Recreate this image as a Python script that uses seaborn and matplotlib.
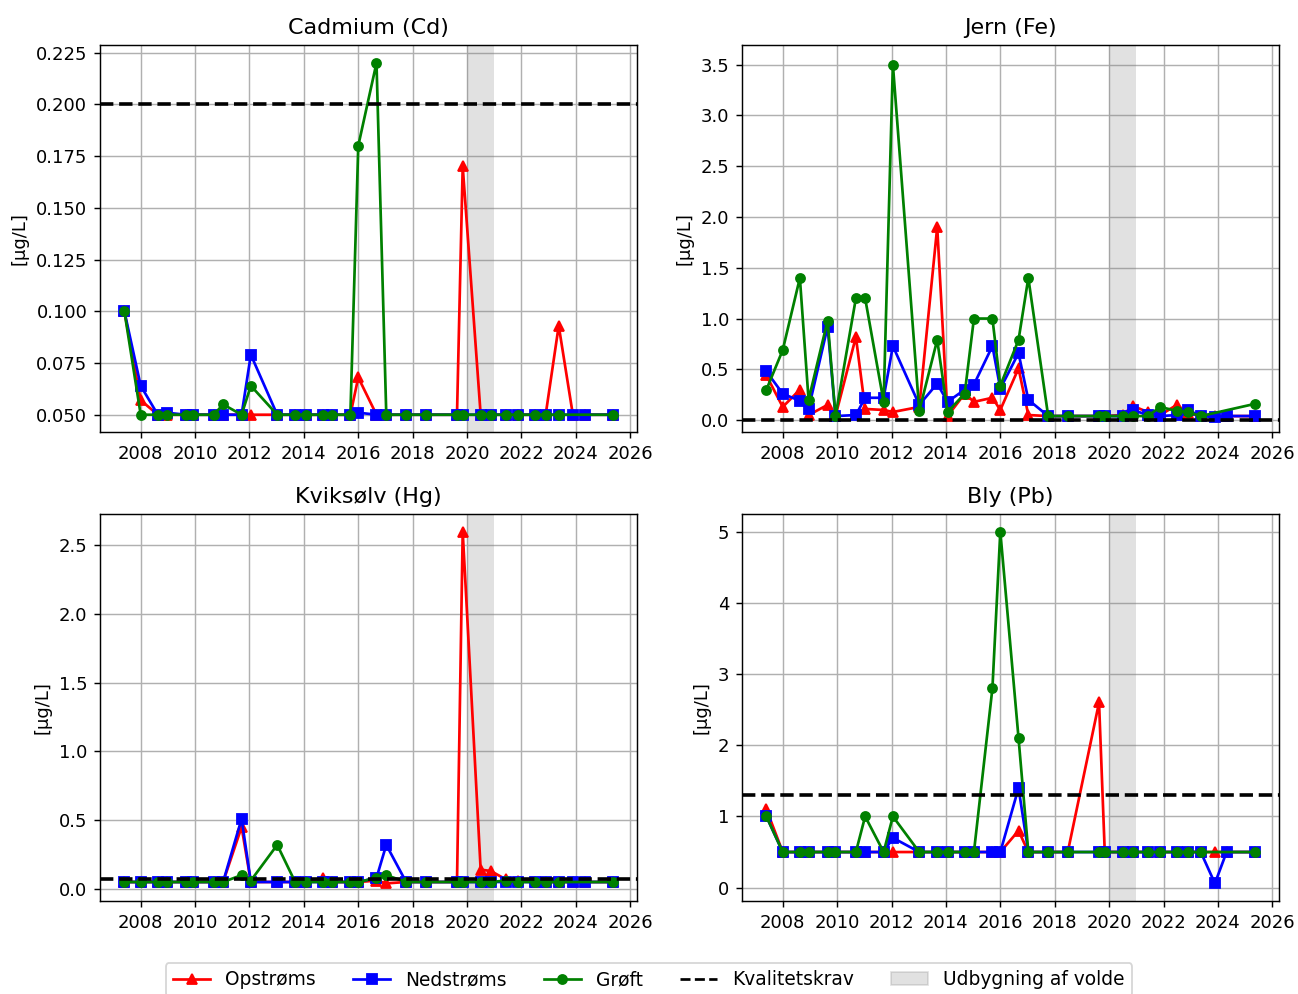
import numpy as np
import matplotlib
matplotlib.use("Agg")
import matplotlib.pyplot as plt
import seaborn as sns
from matplotlib.lines import Line2D
from matplotlib.patches import Patch
from matplotlib.ticker import MultipleLocator, FormatStrFormatter

nan = np.nan

# Sampling dates (decimal years)
dates = [2007.40, 2008.00, 2008.63, 2008.95, 2009.65, 2009.94, 2010.69, 2011.03,
         2011.71, 2012.05, 2013.02, 2013.68, 2014.06, 2014.69, 2015.03, 2015.71,
         2016.00, 2016.67, 2017.03, 2017.76, 2018.48, 2019.63, 2019.84, 2020.50,
         2020.87, 2021.42, 2021.88, 2022.49, 2022.89, 2023.37, 2023.89, 2024.32,
         2025.36]

# Cadmium (Cd)
cd_op = [0.100, 0.057, 0.05, 0.05, 0.05, 0.05, 0.05, 0.05, 0.05, 0.05, 0.05, 0.05,
         0.05, 0.05, 0.05, 0.05, 0.068, 0.05, 0.05, 0.05, 0.05, 0.05, 0.17, 0.05,
         0.05, 0.05, 0.05, 0.05, 0.05, 0.093, 0.05, 0.05, 0.05]
cd_ned = [0.100, 0.064, 0.05, 0.051, 0.05, 0.05, 0.05, 0.05, 0.05, 0.079, 0.05, 0.05,
          0.05, 0.05, 0.05, 0.05, 0.051, 0.05, 0.05, 0.05, 0.05, 0.05, 0.05, 0.05,
          0.05, 0.05, 0.05, 0.05, 0.05, 0.05, 0.05, 0.05, 0.05]
cd_groft = [0.100, 0.05, 0.05, 0.05, 0.05, 0.05, 0.05, 0.055, 0.05, 0.064, 0.05, 0.05,
            0.05, 0.05, 0.05, 0.05, 0.18, 0.22, 0.05, 0.05, 0.05, 0.05, 0.05, 0.05,
            0.05, 0.05, 0.05, 0.05, 0.05, 0.05, nan, nan, 0.05]

# Jern (Fe)
fe_op = [0.44, 0.13, 0.30, 0.05, 0.15, 0.04, 0.82, 0.11, 0.10, 0.08, 0.13, 1.90,
         0.04, 0.26, 0.18, 0.22, 0.10, 0.51, 0.05, 0.04, 0.04, 0.04, 0.04, 0.05,
         0.14, 0.08, 0.05, 0.15, 0.07, 0.04, 0.04, 0.04, 0.04]
fe_ned = [0.48, 0.26, 0.19, 0.11, 0.92, 0.04, 0.05, 0.22, 0.22, 0.73, 0.15, 0.36,
          0.18, 0.30, 0.35, 0.73, 0.31, 0.66, 0.20, 0.04, 0.04, 0.04, 0.04, 0.04,
          0.10, 0.05, 0.04, 0.05, 0.10, 0.04, 0.03, 0.04, 0.04]
fe_groft = [0.30, 0.69, 1.40, 0.20, 0.98, 0.04, 1.20, 1.20, 0.18, 3.50, 0.09, 0.79,
            0.08, 0.26, 1.00, 1.00, 0.34, 0.79, 1.40, 0.04, 0.04, 0.04, 0.04, 0.04,
            0.04, 0.04, 0.13, 0.09, 0.08, 0.04, nan, nan, 0.16]

# Kviksølv (Hg)
hg_op = [0.05, 0.05, 0.05, 0.05, 0.05, 0.05, 0.05, 0.05, 0.45, 0.05, 0.05, 0.05,
         0.05, 0.08, 0.05, 0.05, 0.05, 0.06, 0.04, 0.05, 0.05, 0.05, 2.60, 0.14,
         0.13, 0.07, 0.06, 0.05, 0.05, 0.05, 0.05, 0.05, 0.05]
hg_ned = [0.05, 0.05, 0.05, 0.05, 0.05, 0.05, 0.05, 0.05, 0.51, 0.05, 0.05, 0.05,
          0.05, 0.05, 0.05, 0.05, 0.05, 0.08, 0.32, 0.05, 0.05, 0.05, 0.05, 0.05,
          0.05, 0.05, 0.05, 0.05, 0.05, 0.05, 0.05, 0.05, 0.05]
hg_groft = [0.05, 0.05, 0.05, 0.05, 0.05, 0.05, 0.05, 0.05, 0.10, 0.06, 0.32, 0.05,
            0.05, 0.05, 0.05, 0.05, 0.05, 0.08, 0.10, 0.05, 0.05, 0.05, 0.05, 0.05,
            0.05, 0.06, 0.05, 0.05, 0.05, 0.05, nan, nan, 0.05]

# Bly (Pb)
pb_op = [1.1, 0.5, 0.5, 0.5, 0.5, 0.5, 0.5, 0.5, 0.5, 0.5, 0.5, 0.5,
         0.5, 0.5, 0.5, 0.5, 0.5, 0.8, 0.5, 0.5, 0.5, 2.6, 0.5, 0.5,
         0.5, 0.5, 0.5, 0.5, 0.5, 0.5, 0.5, 0.5, 0.5]
pb_ned = [1.0, 0.5, 0.5, 0.5, 0.5, 0.5, 0.5, 0.5, 0.5, 0.7, 0.5, 0.5,
          0.5, 0.5, 0.5, 0.5, 0.5, 1.4, 0.5, 0.5, 0.5, 0.5, 0.5, 0.5,
          0.5, 0.5, 0.5, 0.5, 0.5, 0.5, 0.06, 0.5, 0.5]
pb_groft = [1.0, 0.5, 0.5, 0.5, 0.5, 0.5, 0.5, 1.0, 0.5, 1.0, 0.5, 0.5,
            0.5, 0.5, 0.5, 2.8, 5.0, 2.1, 0.5, 0.5, 0.5, 0.5, 0.5, 0.5,
            0.5, 0.5, 0.5, 0.5, 0.5, 0.5, nan, nan, 0.5]

titles = ["Cadmium (Cd)", "Jern (Fe)", "Kviksølv (Hg)", "Bly (Pb)"]
limits = [0.2, 0.0, 0.07, 1.3]
series_labels = ["Opstrøms", "Nedstrøms", "Grøft"]
limit_label = "Kvalitetskrav"
span_label = "Udbygning af volde"
span_start, span_end = 2020.0, 2021.0
ylabel = "[µg/L]"

panels = [
    (cd_op, cd_ned, cd_groft),
    (fe_op, fe_ned, fe_groft),
    (hg_op, hg_ned, hg_groft),
    (pb_op, pb_ned, pb_groft),
]
colors = ["red", "blue", "green"]
markers = ["^", "s", "o"]

fig, axes = plt.subplots(2, 2, figsize=(1298 / 130, 994 / 130), dpi=130)
fig.subplots_adjust(left=0.077, right=0.9856, top=0.9544, bottom=0.0936,
                    wspace=0.1949, hspace=0.211)

x_all = np.array(dates)
for ax, title, lim, series in zip(axes.flat, titles, limits, panels):
    ax.axvspan(span_start, span_end, color="gray", alpha=0.23, lw=0, zorder=1)
    for vals, c, m, lab in zip(series, colors, markers, series_labels):
        y = np.array(vals, dtype=float)
        ok = ~np.isnan(y)
        sns.lineplot(x=x_all[ok], y=y[ok], ax=ax, color=c, marker=m,
                     markersize=5, linewidth=1.5, markeredgecolor=c,
                     markeredgewidth=1, estimator=None, errorbar=None,
                     legend=False, zorder=2)
    ax.axhline(lim, color="black", linestyle="--", linewidth=2, zorder=3)
    ax.set_title(title, fontsize=12.3)
    ax.set_ylabel(ylabel)
    ax.set_xlabel("")
    ax.xaxis.set_major_locator(MultipleLocator(2))
    ax.xaxis.set_major_formatter(FormatStrFormatter("%d"))
    ax.grid(True, color="#b0b0b0", linewidth=0.8)
    ax.set_axisbelow(True)

axes[0, 1].set_ylim(-0.12, 3.69)

handles = [
    Line2D([], [], color="red", marker="^", markersize=5, linewidth=1.5),
    Line2D([], [], color="blue", marker="s", markersize=5, linewidth=1.5),
    Line2D([], [], color="green", marker="o", markersize=5, linewidth=1.5),
    Line2D([], [], color="black", linestyle="--", linewidth=1.5),
    Patch(facecolor="gray", edgecolor="gray", alpha=0.23),
]
labels = series_labels + [limit_label, span_label]
fig.legend(handles, labels, loc="upper center", bbox_to_anchor=(0.5, 1 - 963 / 994),
           borderaxespad=0, ncol=5, fontsize=10.3)

fig.savefig("out.png", dpi=130)
